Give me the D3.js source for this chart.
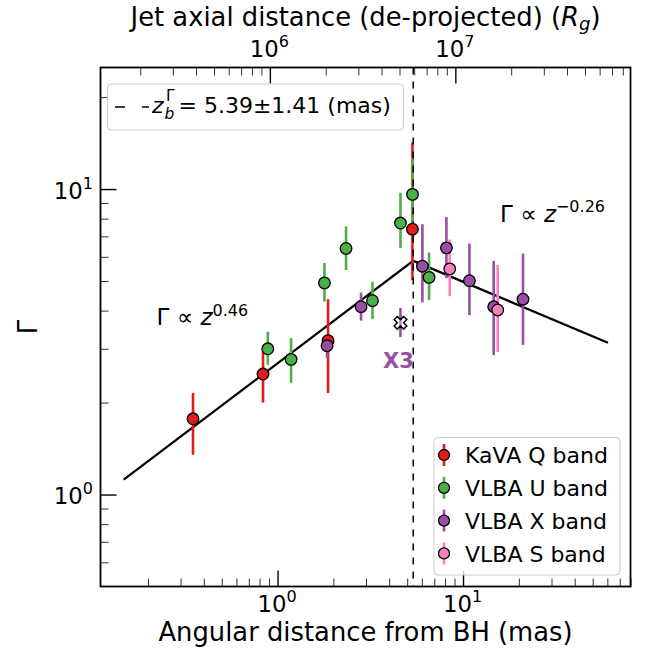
<!DOCTYPE html>
<html><head><meta charset="utf-8">
<script src="https://cdn.jsdelivr.net/npm/d3@7"></script>
<style>body{margin:0;background:#fff}text{font-family:"DejaVu Sans",sans-serif}</style>
</head><body><svg id="c" width="646" height="650"></svg>
<script>
// ---------- data ----------
const bandNames  = ["KaVA Q band", "VLBA U band", "VLBA X band", "VLBA S band"];
const bandColors = ["#e41a1c", "#4daf4a", "#984ea3", "#f781bf"];

const qX  = [0.350, 0.835, 1.872, 5.336];
const qY  = [1.77, 2.48, 3.19, 7.39];
const qLo = [1.35, 2.00, 2.15, 5.03];
const qHi = [2.15, 2.98, 4.36, 14.2];

const uX  = [0.886, 1.183, 1.79, 2.34, 3.25, 4.60, 5.34, 6.56];
const uY  = [3.00, 2.77, 4.93, 6.39, 4.31, 7.74, 9.61, 5.14];
const uLo = [2.66, 2.32, 4.28, 5.43, 3.75, 6.42, 7.06, 4.33];
const uHi = [3.41, 3.25, 5.73, 7.55, 4.97, 9.73, 12.6, 6.20];

const xbX  = [1.849, 2.819, 6.04, 8.14, 10.83, 14.64, 21.06];
const xbY  = [3.07, 4.12, 5.59, 6.42, 5.01, 4.12, 4.36];
const xbLo = [2.80, 3.71, 4.26, 5.11, 3.87, 2.86, 3.09];
const xbHi = [3.30, 4.58, 7.67, 8.10, 6.63, 5.82, 6.15];

const sX  = [8.48, 15.38];
const sY  = [5.48, 4.02];
const sLo = [4.46, 2.93];
const sHi = [6.83, 5.64];

const x3X = [4.60], x3Y = [3.65], x3Lo = [3.28], x3Hi = [4.08];
const x3Label = "X3";

const fitX = [0.148, 5.39, 60.5];
const fitY = [1.12, 5.82, 3.14];
const zBreak = 5.39;
const breakLabel = "= 5.39±1.41 (mas)";
const slope1 = "0.46", slope2 = "−0.26";

const xMajor = [1, 10];
const xMinor = [0.2,0.3,0.4,0.5,0.6,0.7,0.8,0.9,2,3,4,5,6,7,8,9,20,30,40,50,60,70,80];
const yMajor = [1, 10];
const yMinor = [0.6,0.7,0.8,0.9,2,3,4,5,6,7,8,9,20];
const rgPerMas = 1.1e6;
const topMajor = [1e6, 1e7];
const topMinor = [2e5,3e5,4e5,5e5,6e5,7e5,8e5,9e5,2e6,3e6,4e6,5e6,6e6,7e6,8e6,9e6,2e7,3e7,4e7,5e7,6e7,7e7,8e7];

const series = [
  {x:qX, y:qY, lo:qLo, hi:qHi, c:bandColors[0]},
  {x:uX, y:uY, lo:uLo, hi:uHi, c:bandColors[1]},
  {x:xbX, y:xbY, lo:xbLo, hi:xbHi, c:bandColors[2]},
  {x:sX, y:sY, lo:sLo, hi:sHi, c:bandColors[3]}
];

// ---------- layout ----------
const L = 100.5, R = 630.5, T = 67.5, B = 586.5;
const FL = 25.8, FT = 22.8, FTS = 16, FS = 22, FSS = 15.5, FA = 23, FAS = 16;
const svg = d3.select("#c");
svg.append("rect").attr("width",646).attr("height",650).attr("fill","#fff");

const x  = d3.scaleLog().domain([0.111, 80]).range([L, R]);
const y  = d3.scaleLog().domain([0.5, 25]).range([B, T]);
const xr = d3.scaleLog().domain([0.111*rgPerMas, 80*rgPerMas]).range([L, R]);

function axis(gen, scale, vals, size, tr, major) {
  const g = svg.append("g").attr("transform", tr)
    .call(gen(scale).tickValues(vals).tickSizeInner(size).tickSizeOuter(0).tickFormat(() => ""));
  g.select(".domain").remove();
  g.selectAll(".tick text").remove();
  g.selectAll(".tick line").attr("stroke", major ? "#000" : "#333").attr("stroke-width", major ? 1.4 : 1);
  return g;
}
function powLabel(g, anchor, dx, dy) {
  g.selectAll(".tick").each(function(d) {
    const t = d3.select(this).append("text").attr("x", dx).attr("y", dy)
      .attr("text-anchor", anchor).attr("font-size", FT).attr("fill", "#000");
    t.append("tspan").text("10");
    t.append("tspan").attr("dy", -10).attr("font-size", FTS).text(Math.round(Math.log10(d)));
  });
}
axis(d3.axisBottom, x, xMinor, -8, `translate(0,${B})`, false);
powLabel(axis(d3.axisBottom, x, xMajor, -16, `translate(0,${B})`, true), "middle", -1, 25.5);
axis(d3.axisLeft, y, yMinor, -8, `translate(${L},0)`, false);
powLabel(axis(d3.axisLeft, y, yMajor, -16, `translate(${L},0)`, true), "end", -7.5, 9);
axis(d3.axisTop, xr, topMinor, -8, `translate(0,${T})`, false);
powLabel(axis(d3.axisTop, xr, topMajor, -16, `translate(0,${T})`, true), "middle", -1, -11);

// ---------- fit line ----------
svg.append("path").datum(fitX.map((v,i)=>[v,fitY[i]]))
  .attr("d", d3.line().x(d=>x(d[0])).y(d=>y(d[1])))
  .attr("fill","none").attr("stroke","#000").attr("stroke-width",2.2);

// ---------- error bars ----------
const gBars = svg.append("g");
series.forEach(s => {
  gBars.selectAll(null).data(s.x).enter().append("line")
    .attr("x1",(d)=>x(d)).attr("x2",(d)=>x(d))
    .attr("y1",(d,i)=>y(s.lo[i])).attr("y2",(d,i)=>y(s.hi[i]))
    .attr("stroke",s.c).attr("stroke-width",2.6);
});
gBars.selectAll(null).data(x3X).enter().append("line")
  .attr("x1",d=>x(d)).attr("x2",d=>x(d))
  .attr("y1",(d,i)=>y(x3Lo[i])).attr("y2",(d,i)=>y(x3Hi[i]))
  .attr("stroke",bandColors[2]).attr("stroke-width",2.6);

// ---------- break line ----------
svg.append("line").attr("x1",x(zBreak)).attr("x2",x(zBreak)).attr("y1",T).attr("y2",B)
  .attr("stroke","#000").attr("stroke-width",1.5).attr("stroke-dasharray","7,7");

// ---------- markers ----------
series.forEach(s => {
  svg.append("g").selectAll("circle").data(s.x).enter().append("circle")
    .attr("cx",d=>x(d)).attr("cy",(d,i)=>y(s.y[i])).attr("r",5.8)
    .attr("fill",s.c).attr("stroke","#000").attr("stroke-width",1.3);
});
svg.append("g").selectAll("path").data(x3X).enter().append("path")
  .attr("d", d3.symbol(d3.symbolCross, 100)())
  .attr("transform",(d,i)=>`translate(${x(d)},${y(x3Y[i])}) rotate(45)`)
  .attr("fill","#fff").attr("fill-opacity",0.35).attr("stroke","#000").attr("stroke-width",1.5);
svg.append("text").attr("x", x(x3X[0]) - 2).attr("y", y(x3Y[0]) + 45)
  .attr("text-anchor","middle").attr("font-size",21).attr("font-weight","bold")
  .attr("fill",bandColors[2]).text(x3Label);

// ---------- annotations ----------
function powerText(px, py, sup) {
  const t = svg.append("text").attr("x",px).attr("y",py).attr("font-size",FA).attr("fill","#000");
  t.append("tspan").text("Γ ∝ ");
  t.append("tspan").attr("font-style","italic").text("z");
  t.append("tspan").attr("dy",-9.5).attr("font-size",FAS).text(sup);
}
powerText(156.5, 325, slope1);
powerText(500, 221.5, slope2);

// ---------- frame ----------
svg.append("rect").attr("x",L).attr("y",T).attr("width",R-L).attr("height",B-T)
  .attr("fill","none").attr("stroke","#000").attr("stroke-width",1.8);

// ---------- legend 1 ----------
svg.append("rect").attr("x",107.5).attr("y",84).attr("width",296).attr("height",46).attr("rx",4)
  .attr("fill","#fff").attr("fill-opacity",0.8).attr("stroke","#ccc").attr("stroke-width",1);
svg.append("line").attr("x1",115).attr("x2",149).attr("y1",107).attr("y2",107)
  .attr("stroke","#000").attr("stroke-width",1.5).attr("stroke-dasharray","10,17");
svg.append("text").attr("x",152).attr("y",113.3).attr("font-size",FS).attr("font-style","italic").text("z");
svg.append("text").attr("x",164.5).attr("y",118.5).attr("font-size",FSS).attr("font-style","italic").text("b");
svg.append("text").attr("x",166).attr("y",100.5).attr("font-size",FSS).text("Γ");
svg.append("text").attr("x",178.5).attr("y",113.3).attr("font-size",FS).text(breakLabel);

// ---------- legend 2 ----------
svg.append("rect").attr("x",434).attr("y",437.5).attr("width",186).attr("height",137.5).attr("rx",4)
  .attr("fill","#fff").attr("fill-opacity",0.8).attr("stroke","#ccc").attr("stroke-width",1);
const lg = svg.append("g").selectAll("g").data(bandNames).enter().append("g")
  .attr("transform",(d,i)=>`translate(0,${455 + i*32.8})`);
lg.append("line").attr("x1",444).attr("x2",444).attr("y1",-11).attr("y2",11)
  .attr("stroke",(d,i)=>bandColors[i]).attr("stroke-width",2.6);
lg.append("circle").attr("cx",444).attr("cy",0).attr("r",5.5)
  .attr("fill",(d,i)=>bandColors[i]).attr("stroke","#000").attr("stroke-width",1.3);
lg.append("text").attr("x",465).attr("y",8.3).attr("font-size",FS).text(d=>d);

// ---------- axis titles ----------
svg.append("text").attr("x",(L+R)/2).attr("y",641).attr("text-anchor","middle").attr("font-size",FL)
  .text("Angular distance from BH (mas)");
svg.append("text").attr("transform",`translate(37,${(T+B)/2}) rotate(-90)`).attr("text-anchor","middle")
  .attr("font-size",FL).text("Γ");
const tt = svg.append("text").attr("x",(L+R)/2).attr("y",25.5).attr("text-anchor","middle").attr("font-size",FL);
tt.append("tspan").text("Jet axial distance (de-projected) (");
tt.append("tspan").attr("font-style","italic").text("R");
tt.append("tspan").attr("font-style","italic").attr("font-size",18).attr("dy",4).text("g");
tt.append("tspan").attr("dy",-4).text(")");
</script></body></html>
